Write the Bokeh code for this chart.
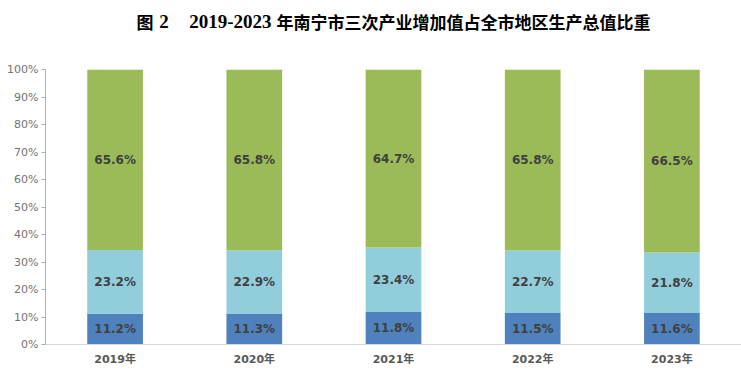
from bokeh.plotting import figure
from bokeh.layouts import column
from bokeh.models import ColumnDataSource, FixedTicker, NumeralTickFormatter, Range1d
from bokeh.core.properties import value
from bokeh.embed import file_html
from bokeh.resources import INLINE

years = ["2019年", "2020年", "2021年", "2022年", "2023年"]
primary = [11.2, 11.3, 11.8, 11.5, 11.6]
secondary = [23.2, 22.9, 23.4, 22.7, 21.8]
tertiary = [65.6, 65.8, 64.7, 65.8, 66.5]
y_ticks = [0, 0.1, 0.2, 0.3, 0.4, 0.5, 0.6, 0.7, 0.8, 0.9, 1.0]
title_parts = ["图", "2", "2019-2023", "年南宁市三次产业增加值占全市地区生产总值比重"]

totals = [a + b + c for a, b, c in zip(primary, secondary, tertiary)]
p1 = [a / t for a, t in zip(primary, totals)]
p2 = [b / t for b, t in zip(secondary, totals)]
p3 = [c / t for c, t in zip(tertiary, totals)]

W = 741

# ---- title strip ----
t = figure(width=W, height=50, x_range=Range1d(0, W), y_range=Range1d(0, 50),
           output_backend="svg", toolbar_location=None,
           x_axis_location=None, y_axis_location=None,
           min_border=0, min_border_left=0, min_border_right=0, min_border_top=0, min_border_bottom=0)
t.grid.visible = False
t.outline_line_color = None
tx = [97, 121, 153, 246]
tfont = ["Noto Sans CJK SC", "Liberation Serif", "Liberation Serif", "Noto Sans CJK SC"]
tsize = ["17px", "19px", "19px", "17px"]
for txt, x, f, s in zip(title_parts, tx, tfont, tsize):
    t.text(x=[x], y=[29], text=[txt], text_align="left", text_baseline="middle",
           text_font=value(f), text_font_style="bold", text_font_size=s, text_color="#000000")

# ---- chart ----
src = ColumnDataSource(dict(year=years, p1=p1, p2=p2, p3=p3))
p = figure(x_range=years, y_range=Range1d(0, 1), width=W, height=329,
           output_backend="svg", toolbar_location=None,
           min_border_left=45, min_border_right=0, min_border_top=19, min_border_bottom=35)
p.outline_line_color = None
p.xgrid.grid_line_color = None
p.ygrid.grid_line_color = None
p.x_range.range_padding = 0

colors = ["#4F81BD", "#92CDDC", "#9BBB59"]
p.vbar_stack(["p1", "p2", "p3"], x="year", width=0.4, color=colors, line_color=None, source=src)

lab_x, lab_y, lab_t = [], [], []
for i, y in enumerate(years):
    b0 = 0
    for share, raw in ((p1[i], primary[i]), (p2[i], secondary[i]), (p3[i], tertiary[i])):
        lab_x.append(y)
        lab_y.append(b0 + share / 2)
        lab_t.append(f"{raw:.1f}%")
        b0 += share
lsrc = ColumnDataSource(dict(x=lab_x, y=lab_y, t=lab_t))
p.text(x="x", y="y", text="t", source=lsrc, text_align="center", text_baseline="middle",
       text_font=value("DejaVu Sans"), text_font_style="bold", text_font_size="12px",
       text_color="#404040")

p.yaxis.ticker = FixedTicker(ticks=y_ticks)
p.yaxis.formatter = NumeralTickFormatter(format="0%")
p.yaxis.axis_line_color = "#9DB3D0"
p.yaxis.major_tick_line_color = "#9DB3D0"
p.yaxis.major_tick_out = 4
p.yaxis.major_tick_in = 0
p.yaxis.minor_tick_line_color = None
p.yaxis.major_label_text_font = "DejaVu Sans"
p.yaxis.major_label_text_font_size = "11px"
p.yaxis.major_label_text_color = "#737373"
p.yaxis.major_label_standoff = 3

p.xaxis.axis_line_color = "#D9D9D9"
p.xaxis.major_tick_line_color = None
p.xaxis.minor_tick_line_color = None
p.xaxis.major_label_text_font = "DejaVu Sans, Noto Sans CJK SC"
p.xaxis.major_label_text_font_style = "bold"
p.xaxis.major_label_text_font_size = "11px"
p.xaxis.major_label_text_color = "#595959"
p.xaxis.major_label_standoff = 2

layout = column(t, p, spacing=0)
open("out.html", "w").write(file_html(layout, INLINE))
